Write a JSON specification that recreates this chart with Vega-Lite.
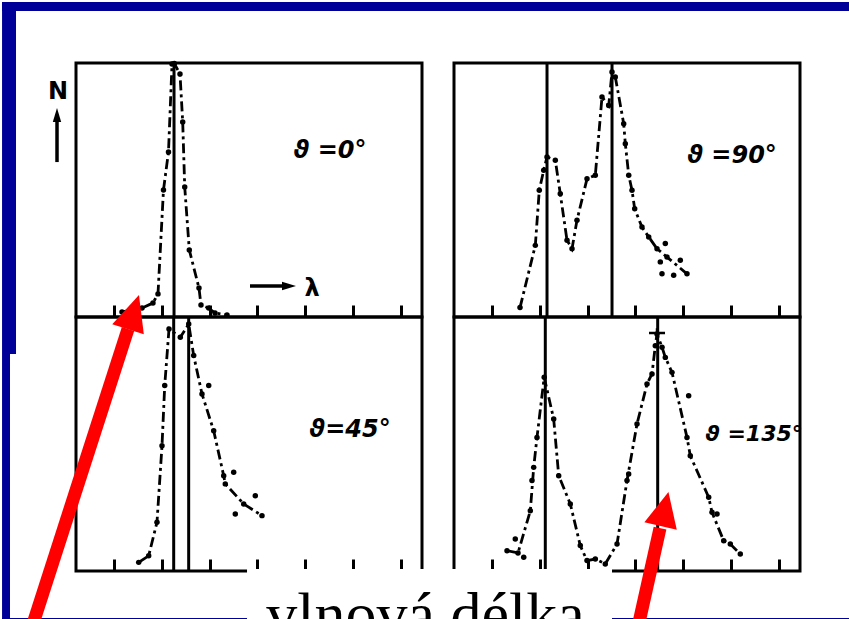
{
  "$schema": "https://vega.github.io/schema/vega-lite/v6.json",
  "background": "white",
  "padding": 0,
  "bounds": "flush",
  "columns": 2,
  "spacing": {"row": 0, "column": 32},
  "config": {
    "view": {"stroke": "black", "strokeWidth": 3},
    "axis": {"labels": false, "domain": false, "grid": false, "ticks": true, "tickSize": -12, "tickWidth": 3, "tickColor": "black"}
  },
  "concat": [
    {
      "width": 346, "height": 254,
      "layer": [
        {
          "data": {"values": [
            {"x": -1.3496, "x2": 16.439, "y": 123.996, "y2": 120.47},
            {"x": -1.3496, "x2": -1.057, "y": 123.996, "y2": -14.57},
            {"x": -1.3496, "x2": -1.183, "y": -14.57, "y2": -119.69},
            {"x": -1.3496, "x2": 3.783, "y": -118.5, "y2": -119.69},
            {"x": 11.431, "x2": 16.439, "y": -118.5, "y2": -119.69}
          ]},
          "mark": {"type": "rect", "color": "#000099", "clip": false},
          "encoding": {
            "x": {"field": "x", "type": "quantitative", "scale": {"domain": [0.2, 7.45], "nice": false, "zero": false}, "axis": {"title": null, "values": [1, 2, 3, 4, 5, 6, 7]}},
            "x2": {"field": "x2"},
            "y": {"field": "y", "type": "quantitative", "scale": {"domain": [0, 100], "nice": false, "zero": false}, "axis": null},
            "y2": {"field": "y2"}
          }
        },
        {
          "data": {"values": [{"x": 2.254}]},
          "mark": {"type": "rule", "color": "black", "strokeWidth": 3},
          "encoding": {"x": {"field": "x", "type": "quantitative", "scale": {"domain": [0.2, 7.45], "nice": false, "zero": false}, "axis": {"title": null, "values": [1, 2, 3, 4, 5, 6, 7]}}}
        },
        {
          "data": {"values": [
            {"x": 1.164, "y": 2.0, "on": 1}, {"x": 1.583, "y": 3.5, "on": 1}, {"x": 1.813, "y": 5.5, "on": 1},
            {"x": 1.918, "y": 9.1, "on": 1}, {"x": 2.033, "y": 50.0, "on": 1}, {"x": 2.138, "y": 65.0, "on": 1},
            {"x": 2.212, "y": 99.6, "on": 1}, {"x": 2.26, "y": 99.8, "on": 1}, {"x": 2.379, "y": 95.7, "on": 1},
            {"x": 2.436, "y": 76.8, "on": 1}, {"x": 2.478, "y": 51.2, "on": 1}, {"x": 2.574, "y": 26.4, "on": 1},
            {"x": 2.777, "y": 11.4, "on": 1}, {"x": 2.819, "y": 4.7, "on": 1}, {"x": 2.981, "y": 3.5, "on": 1},
            {"x": 3.113, "y": 1.6, "on": 1}, {"x": 3.364, "y": 0.8, "on": 1}
          ]},
          "layer": [
            {
              "mark": {"type": "line", "color": "black", "strokeWidth": 2.8, "strokeDash": [10, 4, 3, 4], "clip": false},
              "encoding": {
                "x": {"field": "x", "type": "quantitative", "scale": {"domain": [0.2, 7.45], "nice": false, "zero": false}, "axis": {"title": null, "values": [1, 2, 3, 4, 5, 6, 7]}},
                "y": {"field": "y", "type": "quantitative", "scale": {"domain": [0, 100], "nice": false, "zero": false}, "axis": null}
              }
            },
            {
              "mark": {"type": "point", "filled": true, "color": "black", "size": 30, "opacity": 1, "clip": false},
              "encoding": {
                "x": {"field": "x", "type": "quantitative"},
                "y": {"field": "y", "type": "quantitative"}
              }
            }
          ]
        },
        {
          "data": {"values": [{"x": -0.198, "y": 61.0, "x2": -0.198, "y2": 77.5}, {"x": 3.846, "y": 12.2, "x2": 4.56, "y2": 12.2}]},
          "mark": {"type": "rule", "color": "black", "strokeWidth": 3.5, "clip": false},
          "encoding": {
            "x": {"field": "x", "type": "quantitative"}, "x2": {"field": "x2"},
            "y": {"field": "y", "type": "quantitative"}, "y2": {"field": "y2"}
          }
        },
        {
          "data": {"values": [{"x": -0.198, "y": 79.5}]},
          "mark": {"type": "point", "shape": "M0,-1L0.6,1L-0.6,1Z", "filled": true, "color": "black", "size": 196, "opacity": 1, "clip": false},
          "encoding": {"x": {"field": "x", "type": "quantitative"}, "y": {"field": "y", "type": "quantitative"}}
        },
        {
          "data": {"values": [{"x": 4.663, "y": 12.2}]},
          "mark": {"type": "point", "shape": "M1,0L-1,-0.6L-1,0.6Z", "filled": true, "color": "black", "size": 196, "opacity": 1, "clip": false},
          "encoding": {"x": {"field": "x", "type": "quantitative"}, "y": {"field": "y", "type": "quantitative"}}
        },
        {
          "data": {"values": [{"x": -0.177, "y": 88.6, "t": "N"}, {"x": 5.145, "y": 11.0, "t": "λ"}]},
          "mark": {"type": "text", "font": "DejaVu Sans", "fontWeight": "bold", "fontSize": 24, "color": "black", "align": "center", "baseline": "middle", "clip": false},
          "encoding": {"x": {"field": "x", "type": "quantitative"}, "y": {"field": "y", "type": "quantitative"}, "text": {"field": "t"}}
        },
        {
          "data": {"values": [{"x": 5.522, "y": 65.4, "t": "ϑ =0°"}]},
          "mark": {"type": "text", "font": "DejaVu Sans", "fontWeight": "bold", "fontStyle": "italic", "fontSize": 24, "color": "black", "align": "center", "baseline": "middle"},
          "encoding": {"x": {"field": "x", "type": "quantitative"}, "y": {"field": "y", "type": "quantitative"}, "text": {"field": "t"}}
        }
      ]
    },
    {
      "width": 346, "height": 254,
      "layer": [
        {
          "data": {"values": [{"x": 2.149}, {"x": 3.511}]},
          "mark": {"type": "rule", "color": "black", "strokeWidth": 3},
          "encoding": {"x": {"field": "x", "type": "quantitative", "scale": {"domain": [0.2, 7.45], "nice": false, "zero": false}, "axis": {"title": null, "values": [1, 2, 3, 4, 5, 6, 7]}}}
        },
        {
          "data": {"values": [
            {"x": 1.583, "y": 3.7, "on": 1}, {"x": 1.904, "y": 28.2, "on": 1}, {"x": 1.987, "y": 49.9, "on": 1},
            {"x": 2.080, "y": 57.8, "on": 1}, {"x": 2.149, "y": 63.0, "on": 1}, {"x": 2.323, "y": 61.7, "on": 1},
            {"x": 2.427, "y": 48.5, "on": 1}, {"x": 2.568, "y": 30.2, "on": 1}, {"x": 2.673, "y": 26.9, "on": 1},
            {"x": 2.777, "y": 38.1, "on": 1}, {"x": 2.987, "y": 54.4, "on": 1}, {"x": 3.161, "y": 55.8, "on": 1},
            {"x": 3.301, "y": 86.6, "on": 1}, {"x": 3.442, "y": 83.3, "on": 1}, {"x": 3.511, "y": 96.5, "on": 1},
            {"x": 3.580, "y": 94.5, "on": 1}, {"x": 3.756, "y": 76.1, "on": 1}, {"x": 3.790, "y": 68.2, "on": 1},
            {"x": 3.861, "y": 55.8, "on": 1}, {"x": 3.930, "y": 49.9, "on": 1}, {"x": 3.986, "y": 42.6, "on": 1},
            {"x": 4.139, "y": 35.4, "on": 1}, {"x": 4.280, "y": 31.5, "on": 1}, {"x": 4.454, "y": 26.9, "on": 1},
            {"x": 4.663, "y": 23.6, "on": 1}, {"x": 5.082, "y": 17.0, "on": 1},
            {"x": 4.628, "y": 28.9, "on": 0}, {"x": 4.523, "y": 21.7, "on": 0}, {"x": 4.942, "y": 22.3, "on": 0},
            {"x": 4.558, "y": 17.0, "on": 0}, {"x": 4.803, "y": 16.4, "on": 0}
          ]},
          "layer": [
            {
              "transform": [{"filter": "datum.on == 1"}],
              "mark": {"type": "line", "color": "black", "strokeWidth": 2.8, "strokeDash": [10, 4, 3, 4], "clip": false},
              "encoding": {
                "x": {"field": "x", "type": "quantitative", "scale": {"domain": [0.2, 7.45], "nice": false, "zero": false}, "axis": {"title": null, "values": [1, 2, 3, 4, 5, 6, 7]}},
                "y": {"field": "y", "type": "quantitative", "scale": {"domain": [0, 100], "nice": false, "zero": false}, "axis": null}
              }
            },
            {
              "mark": {"type": "point", "filled": true, "color": "black", "size": 30, "opacity": 1, "clip": false},
              "encoding": {"x": {"field": "x", "type": "quantitative"}, "y": {"field": "y", "type": "quantitative"}}
            }
          ]
        },
        {
          "data": {"values": [{"x": 6.025, "y": 63.4, "t": "ϑ =90°"}]},
          "mark": {"type": "text", "font": "DejaVu Sans", "fontWeight": "bold", "fontStyle": "italic", "fontSize": 24, "color": "black", "align": "center", "baseline": "middle"},
          "encoding": {"x": {"field": "x", "type": "quantitative"}, "y": {"field": "y", "type": "quantitative"}, "text": {"field": "t"}}
        }
      ]
    },
    {
      "width": 346, "height": 254,
      "layer": [
        {
          "data": {"values": [{"x": 2.247}, {"x": 2.561}]},
          "mark": {"type": "rule", "color": "black", "strokeWidth": 3},
          "encoding": {"x": {"field": "x", "type": "quantitative", "scale": {"domain": [0.2, 7.45], "nice": false, "zero": false}, "axis": {"title": null, "values": [1, 2, 3, 4, 5, 6, 7]}}}
        },
        {
          "data": {"values": [
            {"x": 1.514, "y": 3.4, "on": 1}, {"x": 1.723, "y": 6.0, "on": 1}, {"x": 1.897, "y": 19.2, "on": 1},
            {"x": 2.002, "y": 49.3, "on": 1}, {"x": 2.059, "y": 73.0, "on": 1}, {"x": 2.149, "y": 95.3, "on": 1},
            {"x": 2.386, "y": 92.0, "on": 1}, {"x": 2.562, "y": 97.2, "on": 1}, {"x": 2.666, "y": 84.8, "on": 1},
            {"x": 2.840, "y": 69.7, "on": 1}, {"x": 3.085, "y": 55.2, "on": 1}, {"x": 3.295, "y": 37.5, "on": 1},
            {"x": 3.328, "y": 34.3, "on": 1}, {"x": 3.714, "y": 26.4, "on": 1}, {"x": 4.097, "y": 21.8, "on": 1},
            {"x": 2.981, "y": 73.0, "on": 0}, {"x": 3.504, "y": 38.9, "on": 0}, {"x": 3.957, "y": 29.6, "on": 0},
            {"x": 3.538, "y": 22.4, "on": 0}
          ]},
          "layer": [
            {
              "transform": [{"filter": "datum.on == 1"}],
              "mark": {"type": "line", "color": "black", "strokeWidth": 2.8, "strokeDash": [10, 4, 3, 4], "clip": false},
              "encoding": {
                "x": {"field": "x", "type": "quantitative", "scale": {"domain": [0.2, 7.45], "nice": false, "zero": false}, "axis": {"title": null, "values": [1, 2, 3, 4, 5, 6, 7]}},
                "y": {"field": "y", "type": "quantitative", "scale": {"domain": [0, 100], "nice": false, "zero": false}, "axis": null}
              }
            },
            {
              "mark": {"type": "point", "filled": true, "color": "black", "size": 30, "opacity": 1, "clip": false},
              "encoding": {"x": {"field": "x", "type": "quantitative"}, "y": {"field": "y", "type": "quantitative"}}
            }
          ]
        },
        {
          "data": {"values": [{"x": 5.941, "y": 55.5, "t": "ϑ=45°"}]},
          "mark": {"type": "text", "font": "DejaVu Sans", "fontWeight": "bold", "fontStyle": "italic", "fontSize": 24, "color": "black", "align": "center", "baseline": "middle"},
          "encoding": {"x": {"field": "x", "type": "quantitative"}, "y": {"field": "y", "type": "quantitative"}, "text": {"field": "t"}}
        },
        {
          "data": {"values": [{"x": -0.722, "y": -22.0, "x2": 1.29, "y2": 95.3}]},
          "mark": {"type": "rule", "color": "#ff0000", "strokeWidth": 13, "clip": false},
          "encoding": {
            "x": {"field": "x", "type": "quantitative"}, "x2": {"field": "x2"},
            "y": {"field": "y", "type": "quantitative"}, "y2": {"field": "y2"}
          }
        },
        {
          "data": {"values": [{"x": 1.405, "y": 101.9}]},
          "mark": {"type": "point", "shape": "M0,-1L0.92,1L-0.92,1Z", "filled": true, "color": "#ff0000", "size": 1296, "angle": 17.7, "opacity": 1, "clip": false},
          "encoding": {"x": {"field": "x", "type": "quantitative"}, "y": {"field": "y", "type": "quantitative"}}
        }
      ]
    },
    {
      "width": 346, "height": 254,
      "layer": [
        {
          "data": {"values": [{"x": 2.113}, {"x": 4.468}]},
          "mark": {"type": "rule", "color": "black", "strokeWidth": 3},
          "encoding": {"x": {"field": "x", "type": "quantitative", "scale": {"domain": [0.2, 7.45], "nice": false, "zero": false}, "axis": {"title": null, "values": [1, 2, 3, 4, 5, 6, 7]}}}
        },
        {
          "data": {"values": [
            {"x": 1.311, "y": 8.0, "on": 1}, {"x": 1.541, "y": 7.1, "on": 1}, {"x": 1.799, "y": 23.7, "on": 1},
            {"x": 1.870, "y": 40.8, "on": 1}, {"x": 1.939, "y": 52.6, "on": 1}, {"x": 2.09, "y": 76.3, "on": 1},
            {"x": 2.289, "y": 59.8, "on": 1}, {"x": 2.394, "y": 37.5, "on": 1}, {"x": 2.637, "y": 26.4, "on": 1},
            {"x": 2.846, "y": 10.0, "on": 1}, {"x": 2.987, "y": 4.1, "on": 1}, {"x": 3.161, "y": 4.7, "on": 1},
            {"x": 3.370, "y": 2.8, "on": 1}, {"x": 3.616, "y": 10.6, "on": 1}, {"x": 3.825, "y": 35.6, "on": 1},
            {"x": 4.035, "y": 57.9, "on": 1}, {"x": 4.244, "y": 73.6, "on": 1}, {"x": 4.349, "y": 77.6, "on": 1},
            {"x": 4.418, "y": 88.7, "on": 1}, {"x": 4.454, "y": 93.3, "on": 1}, {"x": 4.559, "y": 88.1, "on": 1},
            {"x": 4.628, "y": 84.1, "on": 1}, {"x": 4.768, "y": 78.2, "on": 1}, {"x": 5.082, "y": 52.6, "on": 1},
            {"x": 5.151, "y": 45.4, "on": 1}, {"x": 5.537, "y": 29.0, "on": 1}, {"x": 5.606, "y": 23.1, "on": 1},
            {"x": 5.851, "y": 11.9, "on": 1}, {"x": 5.990, "y": 10.6, "on": 1}, {"x": 6.199, "y": 6.7, "on": 1},
            {"x": 1.484, "y": 12.6, "on": 0}, {"x": 1.661, "y": 5.4, "on": 0}, {"x": 1.834, "y": 35.6, "on": 0},
            {"x": 5.117, "y": 69.0, "on": 0}, {"x": 3.860, "y": 38.2, "on": 0}, {"x": 5.711, "y": 22.4, "on": 0}
          ]},
          "layer": [
            {
              "transform": [{"filter": "datum.on == 1"}],
              "mark": {"type": "line", "color": "black", "strokeWidth": 2.8, "strokeDash": [10, 4, 3, 4], "clip": false},
              "encoding": {
                "x": {"field": "x", "type": "quantitative", "scale": {"domain": [0.2, 7.45], "nice": false, "zero": false}, "axis": {"title": null, "values": [1, 2, 3, 4, 5, 6, 7]}},
                "y": {"field": "y", "type": "quantitative", "scale": {"domain": [0, 100], "nice": false, "zero": false}, "axis": null}
              }
            },
            {
              "mark": {"type": "point", "filled": true, "color": "black", "size": 30, "opacity": 1, "clip": false},
              "encoding": {"x": {"field": "x", "type": "quantitative"}, "y": {"field": "y", "type": "quantitative"}}
            }
          ]
        },
        {
          "data": {"values": [{"x": 4.454, "y": 93.7}]},
          "mark": {"type": "point", "shape": "M-1,0L1,0M0,-0.6L0,0.6", "filled": false, "color": "black", "strokeWidth": 2.5, "size": 256, "opacity": 1, "clip": false},
          "encoding": {"x": {"field": "x", "type": "quantitative"}, "y": {"field": "y", "type": "quantitative"}}
        },
        {
          "data": {"values": [{"x": 6.486, "y": 53.9, "t": "ϑ =135°"}]},
          "mark": {"type": "text", "font": "DejaVu Sans", "fontWeight": "bold", "fontStyle": "italic", "fontSize": 22, "color": "black", "align": "center", "baseline": "middle"},
          "encoding": {"x": {"field": "x", "type": "quantitative"}, "y": {"field": "y", "type": "quantitative"}, "text": {"field": "t"}}
        },
        {
          "data": {"values": [{"x": -4.137, "x2": 3.511, "y": 0.79, "y2": -24.0}]},
          "mark": {"type": "rect", "color": "white", "clip": false},
          "encoding": {
            "x": {"field": "x", "type": "quantitative"}, "x2": {"field": "x2"},
            "y": {"field": "y", "type": "quantitative"}, "y2": {"field": "y2"}
          }
        },
        {
          "data": {"values": [{"x": -0.397, "y": -25.2, "t": "vlnová délka"}]},
          "mark": {"type": "text", "font": "Liberation Serif", "fontSize": 62, "color": "black", "align": "center", "baseline": "alphabetic", "clip": false},
          "encoding": {"x": {"field": "x", "type": "quantitative"}, "y": {"field": "y", "type": "quantitative"}, "text": {"field": "t"}}
        },
        {
          "data": {"values": [{"x": 4.056, "y": -22.0, "x2": 4.517, "y2": 16.9}]},
          "mark": {"type": "rule", "color": "#ff0000", "strokeWidth": 13, "clip": false},
          "encoding": {
            "x": {"field": "x", "type": "quantitative"}, "x2": {"field": "x2"},
            "y": {"field": "y", "type": "quantitative"}, "y2": {"field": "y2"}
          }
        },
        {
          "data": {"values": [{"x": 4.611, "y": 24.4}]},
          "mark": {"type": "point", "shape": "M0,-1L0.95,1L-0.95,1Z", "filled": true, "color": "#ff0000", "size": 1225, "angle": 13, "opacity": 1, "clip": false},
          "encoding": {"x": {"field": "x", "type": "quantitative"}, "y": {"field": "y", "type": "quantitative"}}
        }
      ]
    }
  ]
}
